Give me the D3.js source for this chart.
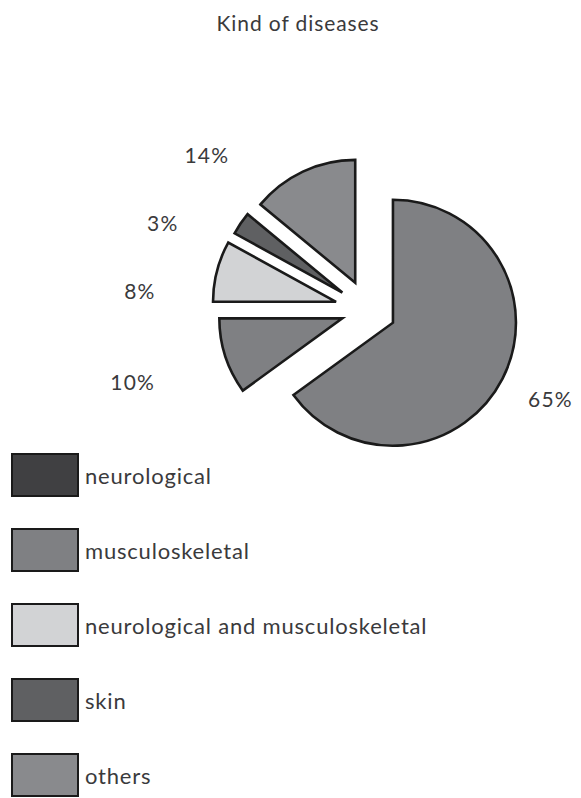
<!DOCTYPE html>
<html><head><meta charset="utf-8">
<script src="https://cdn.jsdelivr.net/npm/d3@7"></script>
<style>body{margin:0;background:#fff}svg{display:block}text{font-family:Lato,"Open Sans",sans-serif;fill:#3a3a3c}</style>
</head><body><div id="chart"></div>
<script>
const title = "Kind of diseases";
const categories = ["neurological","musculoskeletal","neurological and musculoskeletal","skin","others"];
const legendColors = ["#404042","#7f8083","#d2d3d5","#5f6062","#898a8d"];
const sliceValues = [65,10,8,3,14];
const sliceLabels = ["65%","10%","8%","3%","14%"];
const sliceColors = ["#7f8083","#7f8083","#d2d3d5","#5f6062","#898a8d"];
const sliceExplode = [28,27,33,31,30];
const labelAngles = [116,253,275,293,314];
const labelRadius = [203,246,229,223,224];

const W=581,H=798, cx=368, cy=310, R=123;
const svg=d3.select("#chart").append("svg").attr("width",W).attr("height",H);
svg.append("text").attr("x",298).attr("y",31).attr("text-anchor","middle").attr("font-size",21).attr("letter-spacing",0.9).text(title);

const pie=d3.pie().sort(null).value(d=>d)(sliceValues);
const arc=d3.arc().innerRadius(0).outerRadius(R);
const g=svg.append("g").attr("transform",`translate(${cx},${cy})`);
g.selectAll("path").data(pie).join("path")
 .attr("d",arc)
 .attr("transform",(d,i)=>{const a=(d.startAngle+d.endAngle)/2;return `translate(${Math.sin(a)*sliceExplode[i]},${-Math.cos(a)*sliceExplode[i]})`;})
 .attr("fill",(d,i)=>sliceColors[i]).attr("stroke","#1a1a1a").attr("stroke-width",2.6).attr("stroke-linejoin","miter");
g.selectAll("text.lbl").data(pie).join("text").attr("class","lbl")
 .attr("x",(d,i)=>Math.sin(labelAngles[i]*Math.PI/180)*labelRadius[i])
 .attr("y",(d,i)=>-Math.cos(labelAngles[i]*Math.PI/180)*labelRadius[i])
 .attr("text-anchor","middle").attr("dominant-baseline","central").attr("font-size",21).attr("letter-spacing",1.2)
 .text((d,i)=>sliceLabels[i]);

const y=d3.scaleBand().domain(categories).range([454,829]).paddingInner(0);
const lg=svg.append("g");
const items=lg.selectAll("g").data(categories).join("g").attr("transform",d=>`translate(12,${y(d)})`);
items.append("rect").attr("width",66).attr("height",42).attr("fill",(d,i)=>legendColors[i]).attr("stroke","#1a1a1a").attr("stroke-width",2);
items.append("text").attr("x",73).attr("y",21).attr("dominant-baseline","central").attr("font-size",22).attr("letter-spacing",0.8).text(d=>d);
</script></body></html>
